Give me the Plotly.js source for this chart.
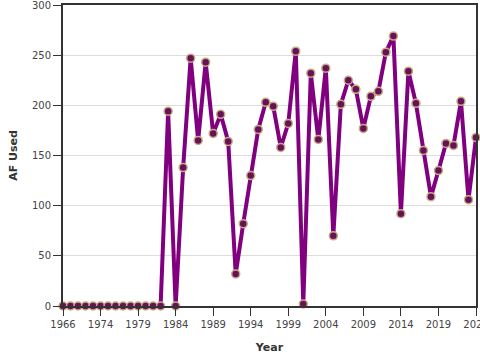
<!DOCTYPE html>
<html><head><meta charset="utf-8">
<script src="https://cdn.plot.ly/plotly-3.0.1.min.js"></script>
<style>html,body{margin:0;padding:0;background:#fff}#chart{width:480px;height:360px}</style>
</head><body><div id="chart"></div>
<script>
const years = ['1966','1970','1971','1972','1973','1974','1975','1976','1977','1978','1979','1980','1981','1982','1983','1984','1985','1986','1987','1988','1989','1990','1991','1992','1993','1994','1995','1996','1997','1998','1999','2000','2001','2002','2003','2004','2005','2006','2007','2008','2009','2010','2011','2012','2013','2014','2015','2016','2017','2018','2019','2020','2021','2022','2023','2024'];
const afUsed = [0,0,0,0,0,0,0,0,0,0,0,0,0,0,194,0,138,247,165,243,172,191,164,32,82,130,176,203,199,158,182,254,2,232,166,237,70,201,225,216,177,209,214,253,269,92,234,202,155,109,135,162,160,204,106,168];
const tickYears = ['1966','1974','1979','1984','1989','1994','1999','2004','2009','2014','2019','2024'];
const yTicks = [0,50,100,150,200,250,300];

Plotly.newPlot('chart', [{
  x: years, y: afUsed, type: 'scatter', mode: 'lines+markers',
  line: {color: '#800080', width: 4},
  marker: {size: 8, color: '#6a0f5a', line: {color: '#c2ac82', width: 1.5}},
  cliponaxis: false
}], {
  width: 480, height: 360,
  margin: {l: 63, r: 4, t: 5, b: 54},
  paper_bgcolor: '#fff', plot_bgcolor: '#fff',
  showlegend: false,
  font: {family: 'DejaVu Sans', size: 10, color: '#444'},
  xaxis: {
    type: 'category', range: [0, 55],
    tickmode: 'array', tickvals: tickYears, ticktext: tickYears,
    ticks: 'outside', ticklen: 8, tickcolor: '#333', tickwidth: 1,
    ticklabeloverflow: 'allow',
    showline: true, linecolor: '#333', linewidth: 2, mirror: true,
    showgrid: false, zeroline: false,
    title: {text: '<b>Year</b>', font: {size: 11, color: '#333'}, standoff: 14}
  },
  yaxis: {
    range: [0, 300],
    tickmode: 'array', tickvals: yTicks, ticktext: yTicks.map(String),
    ticks: 'outside', ticklen: 8, tickcolor: '#333', tickwidth: 1,
    ticklabeloverflow: 'allow',
    showline: true, linecolor: '#333', linewidth: 2, mirror: true,
    showgrid: true, gridcolor: '#ddd', zeroline: false,
    title: {text: '<b>AF Used</b>', font: {size: 11, color: '#333'}, standoff: 12}
  }
}, {displayModeBar: false, staticPlot: true});
</script></body></html>
